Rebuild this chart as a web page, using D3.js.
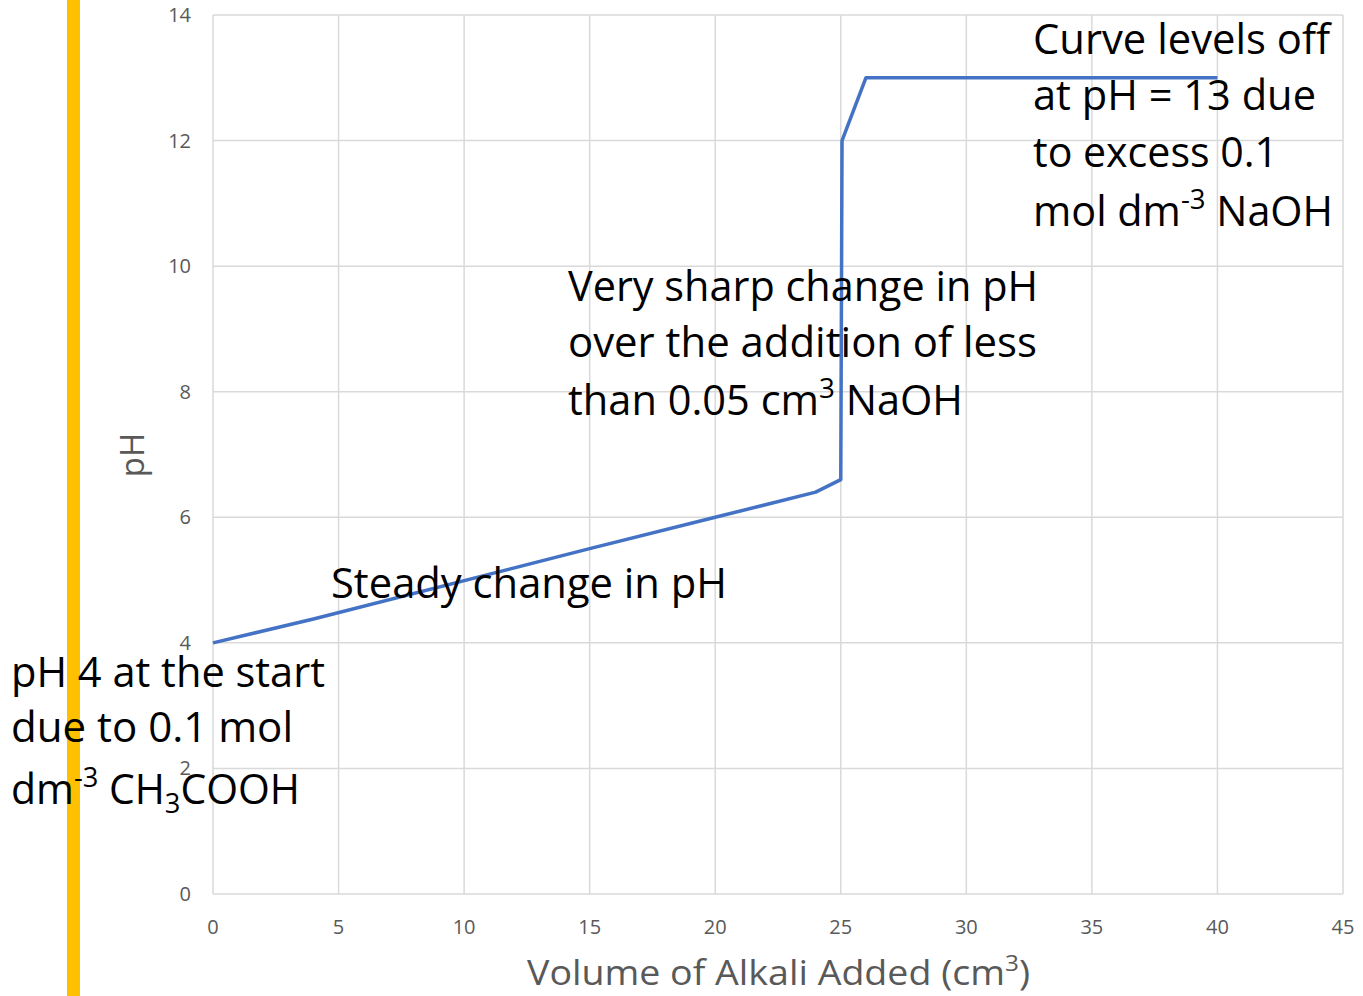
<!DOCTYPE html>
<html>
<head>
<meta charset="utf-8">
<script src="https://cdn.jsdelivr.net/npm/d3@7"></script>
<style>
  body { margin: 0; background: #fff; }
  svg { display: block; font-family: "Open Sans", "Noto Sans", sans-serif; }
</style>
</head>
<body>
<div id="chart"></div>
<script>
// titration curve: volume of NaOH (cm3) against pH
var volume = [0, 4, 15, 20, 24, 25, 25.05, 26, 40];
var ph     = [4, 4.38, 5.5, 6, 6.4, 6.6, 12, 13, 13];

var xTicks = [0, 5, 10, 15, 20, 25, 30, 35, 40, 45];
var yTicks = [0, 2, 4, 6, 8, 10, 12, 14];

// text boxes, each line is a list of [text, style] parts
var notes = [
  { x: 1033, y: 54, lh: [0, 56, 113, 172], w: [297, 283, 245, 300], lines: [
    [["Curve levels off"]],
    [["at pH = 13 due"]],
    [["to excess 0.1"]],
    [["mol dm"], ["-3", "sup"], [" NaOH"]]
  ]},
  { x: 568, y: 301, lh: [0, 56, 114], w: [470, 469, 395], lines: [
    [["Very sharp change in pH"]],
    [["over the addition of less"]],
    [["than 0.05 cm"], ["3", "sup"], [" NaOH"]]
  ]},
  { x: 331, y: 598, lh: [0], w: [396], lines: [
    [["Steady change in pH"]]
  ]},
  { x: 11, y: 687, lh: [0, 55, 117], w: [314, 282, 289], lines: [
    [["pH 4 at the start"]],
    [["due to 0.1 mol"]],
    [["dm"], ["-3", "sup"], [" CH"], ["3", "sub"], ["COOH"]]
  ]}
];

var width = 1363, height = 996;
var margin = {top: 15, right: 20, bottom: 102, left: 213};

var svg = d3.select("#chart").append("svg")
    .attr("width", width)
    .attr("height", height);

var x = d3.scaleLinear().domain([0, 45]).range([margin.left, width - margin.right]);
var y = d3.scaleLinear().domain([0, 14]).range([height - margin.bottom, margin.top]);

// grid
svg.append("g").selectAll("line.v")
    .data(xTicks).enter().append("line")
    .attr("x1", function(d){ return x(d); }).attr("x2", function(d){ return x(d); })
    .attr("y1", y(0)).attr("y2", y(14))
    .attr("stroke", "#d9d9d9").attr("stroke-width", 1.5);
svg.append("g").selectAll("line.h")
    .data(yTicks).enter().append("line")
    .attr("x1", x(0)).attr("x2", x(45))
    .attr("y1", function(d){ return y(d); }).attr("y2", function(d){ return y(d); })
    .attr("stroke", "#d9d9d9").attr("stroke-width", 1.5);

// tick labels
svg.append("g").selectAll("text")
    .data(yTicks).enter().append("text")
    .attr("x", x(0) - 22)
    .attr("y", function(d){ return y(d); })
    .attr("dy", "0.35em")
    .attr("text-anchor", "end")
    .attr("font-size", 20)
    .attr("fill", "#595959")
    .text(function(d){ return d; });
svg.append("g").selectAll("text")
    .data(xTicks).enter().append("text")
    .attr("x", function(d){ return x(d); })
    .attr("y", y(0) + 40)
    .attr("text-anchor", "middle")
    .attr("font-size", 20)
    .attr("fill", "#595959")
    .text(function(d){ return d; });

// axis titles
svg.append("text")
    .attr("transform", "translate(144,455) rotate(-90)")
    .attr("text-anchor", "middle")
    .attr("font-size", 33)
    .attr("fill", "#595959")
    .text("pH");
var xt = svg.append("text")
    .attr("x", 527).attr("y", 985)
    .attr("font-size", 34)
    .attr("fill", "#595959");
xt.append("tspan").text("Volume of Alkali Added (cm");
xt.append("tspan").attr("dy", -14).attr("font-size", 22).text("3");
xt.append("tspan").attr("dy", 14).text(")");
xt.attr("textLength", 503).attr("lengthAdjust", "spacingAndGlyphs");

// curve
var pts = volume.map(function(v, i){ return [v, ph[i]]; });
svg.append("path")
    .datum(pts)
    .attr("fill", "none")
    .attr("stroke", "#4472c4")
    .attr("stroke-width", 3.5)
    .attr("stroke-linejoin", "round")
    .attr("d", d3.line()
        .x(function(d){ return x(d[0]); })
        .y(function(d){ return y(d[1]); }));

// yellow bar down the left side
svg.append("rect")
    .attr("x", 67).attr("y", 0)
    .attr("width", 13).attr("height", height)
    .attr("fill", "#ffc000");

// annotations
notes.forEach(function(n){
  n.lines.forEach(function(parts, i){
    var t = svg.append("text")
        .attr("x", n.x)
        .attr("y", n.y + n.lh[i])
        .attr("font-size", 42)
        .attr("fill", "#000");
    var shift = 0;
    parts.forEach(function(p){
      var s = t.append("tspan").text(p[0]);
      var target = 0;
      if (p[1] == "sup") { s.attr("font-size", 28); target = -17; }
      else if (p[1] == "sub") { s.attr("font-size", 28); target = 9; }
      s.attr("dy", target - shift);
      shift = target;
    });
    t.attr("textLength", n.w[i]).attr("lengthAdjust", "spacingAndGlyphs");
  });
});
</script>
</body>
</html>
